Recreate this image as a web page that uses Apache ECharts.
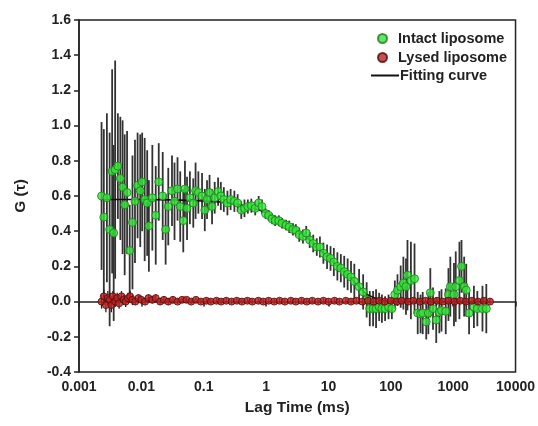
<!DOCTYPE html>
<html>
<head>
<meta charset="utf-8">
<title>FCS autocorrelation</title>
<script src="https://cdn.jsdelivr.net/npm/echarts@6/dist/echarts.min.js"></script>
<style>
html, body { margin: 0; padding: 0; background: #fff; }
#chart { width: 538px; height: 426px; }
</style>
</head>
<body>
<div id="chart"></div>
<script type="text/javascript">
// intact liposome: [lag time (ms), G(tau), error half-width]
var intact = [
    [0.0023, 0.60, 0.42], [0.0025, 0.48, 0.50], [0.0028, 0.59, 0.48], [0.0031, 0.41, 0.55],
    [0.0034, 0.74, 0.58], [0.0036, 0.39, 0.50], [0.0038, 0.75, 0.62], [0.0042, 0.77, 0.30],
    [0.0046, 0.70, 0.35], [0.0050, 0.65, 0.38], [0.0054, 0.55, 0.40], [0.0059, 0.62, 0.35],
    [0.0065, 0.29, 0.26], [0.0072, 0.45, 0.38], [0.0079, 0.57, 0.35], [0.0087, 0.66, 0.30],
    [0.0096, 0.63, 0.32], [0.0103, 0.68, 0.28], [0.0113, 0.58, 0.35], [0.0124, 0.56, 0.30],
    [0.0132, 0.43, 0.26], [0.015, 0.59, 0.30], [0.017, 0.49, 0.28], [0.019, 0.68, 0.22],
    [0.022, 0.60, 0.25], [0.0245, 0.41, 0.20], [0.027, 0.54, 0.22], [0.031, 0.63, 0.20],
    [0.034, 0.57, 0.22], [0.038, 0.64, 0.18], [0.042, 0.54, 0.20], [0.047, 0.46, 0.18],
    [0.050, 0.64, 0.16], [0.054, 0.53, 0.18], [0.060, 0.59, 0.15], [0.068, 0.56, 0.14],
    [0.074, 0.63, 0.16], [0.082, 0.62, 0.12], [0.094, 0.60, 0.13], [0.104, 0.52, 0.12],
    [0.113, 0.58, 0.11], [0.124, 0.62, 0.10], [0.136, 0.54, 0.10], [0.15, 0.59, 0.09],
    [0.17, 0.625, 0.08], [0.188, 0.60, 0.08], [0.21, 0.58, 0.07], [0.24, 0.56, 0.07],
    [0.27, 0.58, 0.06], [0.31, 0.57, 0.06], [0.35, 0.56, 0.05], [0.40, 0.52, 0.05],
    [0.45, 0.53, 0.05], [0.51, 0.54, 0.04], [0.58, 0.545, 0.04], [0.67, 0.53, 0.04],
    [0.76, 0.56, 0.04], [0.86, 0.54, 0.04], [0.98, 0.50, 0.03], [1.1, 0.49, 0.03],
    [1.25, 0.47, 0.03], [1.4, 0.46, 0.03], [1.6, 0.46, 0.03], [1.8, 0.445, 0.03],
    [2.1, 0.435, 0.03], [2.35, 0.425, 0.035], [2.7, 0.41, 0.035], [3.0, 0.405, 0.035],
    [3.4, 0.38, 0.04], [3.9, 0.37, 0.04], [4.4, 0.39, 0.04], [5.0, 0.35, 0.045],
    [5.7, 0.33, 0.05], [6.5, 0.31, 0.05], [7.3, 0.31, 0.06], [8.3, 0.275, 0.06],
    [9.5, 0.255, 0.07], [10.8, 0.245, 0.07], [12.2, 0.225, 0.08], [13.9, 0.20, 0.08],
    [15.8, 0.19, 0.08], [17.9, 0.17, 0.09], [20.3, 0.155, 0.09], [23, 0.14, 0.09],
    [26, 0.115, 0.10], [31, 0.085, 0.10], [36, 0.055, 0.10], [41, 0.01, 0.10],
    [46, -0.04, 0.10], [52, -0.04, 0.10], [58, -0.04, 0.11], [65, -0.03, 0.08],
    [72, -0.04, 0.08], [81, -0.04, 0.07], [92, -0.03, 0.07], [104, -0.04, 0.06],
    [116, 0.04, 0.08], [128, 0.065, 0.09], [144, 0.085, 0.12], [159, 0.105, 0.15],
    [175, 0.085, 0.16], [185, 0.15, 0.20], [210, 0.12, 0.22], [240, 0.13, 0.20],
    [270, -0.065, 0.12], [300, -0.07, 0.11], [325, -0.065, 0.12], [370, -0.115, 0.10],
    [400, -0.065, 0.12], [430, 0.05, 0.14], [475, -0.04, 0.12], [535, -0.105, 0.13],
    [600, -0.06, 0.12], [650, -0.05, 0.12], [760, -0.055, 0.13], [840, 0.04, 0.15],
    [900, 0.085, 0.17], [1030, 0.04, 0.18], [1100, 0.085, 0.20], [1260, 0.12, 0.22],
    [1360, 0.20, 0.15], [1500, 0.085, 0.17], [1620, 0.065, 0.15], [1800, -0.065, 0.12],
    [2150, -0.03, 0.12], [2440, -0.04, 0.10], [2950, -0.04, 0.13], [3400, -0.04, 0.14]
];

// lysed liposome: [lag time (ms), G(tau), error half-width]
var lysed = [
    [0.0023, 0.00, 0.04], [0.0025, 0.03, 0.04], [0.0027, -0.02, 0.04], [0.0029, 0.02, 0.04],
    [0.0031, 0.01, 0.04], [0.0033, -0.02, 0.04], [0.0035, 0.03, 0.03], [0.0038, 0.00, 0.03],
    [0.0041, 0.02, 0.03], [0.0044, -0.01, 0.03], [0.0048, 0.03, 0.03], [0.0052, 0.01, 0.03],
    [0.0056, 0.00, 0.03], [0.0061, 0.02, 0.03], [0.0066, 0.03, 0.03], [0.0072, 0.01, 0.03],
    [0.008, 0.00, 0.02], [0.009, 0.02, 0.02], [0.010, 0.01, 0.02], [0.0115, 0.00, 0.02],
    [0.013, 0.02, 0.02], [0.015, 0.01, 0.02], [0.017, 0.02, 0.02], [0.020, 0.00, 0.02],
    [0.023, 0.01, 0.02], [0.027, 0.00, 0.02], [0.032, 0.01, 0.02], [0.038, 0.00, 0.015],
    [0.045, 0.01, 0.015], [0.053, 0.01, 0.015], [0.063, 0.00, 0.015], [0.075, 0.01, 0.015],
    [0.09, 0.00, 0.015], [0.11, 0.005, 0.015], [0.13, 0.00, 0.015], [0.16, 0.005, 0.015],
    [0.19, 0.00, 0.015], [0.23, 0.005, 0.015], [0.28, 0.00, 0.015], [0.34, 0.005, 0.015],
    [0.41, 0.00, 0.015], [0.5, 0.005, 0.015], [0.6, 0.00, 0.015], [0.75, 0.005, 0.015],
    [0.9, 0.00, 0.015], [1.1, 0.005, 0.015], [1.35, 0.00, 0.015], [1.65, 0.005, 0.015],
    [2, 0.00, 0.015], [2.5, 0.005, 0.015], [3, 0.00, 0.015], [3.7, 0.005, 0.015],
    [4.5, 0.00, 0.015], [5.5, 0.005, 0.015], [6.8, 0.00, 0.015], [8.3, 0.005, 0.015],
    [10, 0.00, 0.015], [12.5, 0.005, 0.015], [15, 0.00, 0.015], [19, 0.005, 0.015],
    [23, 0.00, 0.015], [28, 0.005, 0.015], [35, 0.00, 0.015], [43, 0.005, 0.015],
    [53, 0.00, 0.015], [65, 0.005, 0.015], [80, 0.00, 0.015], [100, 0.005, 0.015],
    [125, 0.00, 0.015], [150, 0.005, 0.015], [190, 0.00, 0.015], [230, 0.005, 0.015],
    [290, 0.00, 0.015], [360, 0.005, 0.015], [440, 0.00, 0.015], [550, 0.005, 0.015],
    [680, 0.00, 0.015], [840, 0.005, 0.015], [1050, 0.00, 0.015], [1300, 0.005, 0.015],
    [1600, 0.00, 0.015], [2000, 0.005, 0.015], [2500, 0.00, 0.015], [3100, 0.005, 0.015],
    [3900, 0.00, 0.015]
];

// fitting curve
var fitLag = [0.0023, 0.01, 0.03, 0.1, 0.2, 0.3, 0.5, 0.7, 1, 1.5, 2, 3, 5, 7, 10, 15, 20, 30, 40, 60, 80, 100, 4000];
var fitG   = [0.58, 0.58, 0.578, 0.572, 0.565, 0.558, 0.54, 0.525, 0.505, 0.475, 0.45, 0.41, 0.35, 0.30, 0.25, 0.19, 0.15, 0.09, 0.045, 0.015, 0.005, 0, 0];

var yTicks = { min: -0.4, max: 1.6, step: 0.2 };
var xRange = { min: 0.001, max: 10000 };

var fontFam = '"Liberation Sans", Arial, sans-serif';

function errorBars(color, width) {
    return function (params, api) {
        var x = api.value(0), y = api.value(1), e = api.value(2);
        var p1 = api.coord([x, y + e]);
        var p2 = api.coord([x, y - e]);
        return {
            type: 'line',
            shape: { x1: p1[0], y1: p1[1], x2: p2[0], y2: p2[1] },
            style: { stroke: color, lineWidth: width }
        };
    };
}

var fitData = fitLag.map(function (t, i) { return [t, fitG[i]]; });

var myChart = echarts.init(document.getElementById('chart'));
var option = {
    backgroundColor: '#fff',
    animation: false,
    textStyle: { fontFamily: fontFam },
    grid: {
        left: 79, right: 21, top: 20, bottom: 54,
        show: true, borderColor: '#222', borderWidth: 1.5, backgroundColor: 'transparent'
    },
    legend: [
        {
            left: 372, top: 26, orient: 'vertical',
            itemWidth: 9, itemHeight: 9, itemGap: 4,
            textStyle: { fontFamily: fontFam, fontWeight: 'bold', fontSize: 14.5, color: '#222', padding: [0, 0, 0, 6] },
            data: [
                { name: 'Intact liposome', icon: 'circle' },
                { name: 'Lysed liposome', icon: 'circle' }
            ]
        },
        {
            left: 366, top: 63, orient: 'vertical',
            itemWidth: 28, itemHeight: 2,
            textStyle: { fontFamily: fontFam, fontWeight: 'bold', fontSize: 14.5, color: '#222', padding: [0, 0, 0, -4] },
            data: [{ name: 'Fitting curve', icon: 'rect' }]
        }
    ],
    xAxis: {
        type: 'log',
        logBase: 10,
        min: xRange.min,
        max: xRange.max,
        name: 'Lag Time (ms)',
        nameLocation: 'middle',
        nameGap: 28,
        nameTextStyle: { fontFamily: fontFam, fontWeight: 'bold', fontSize: 15.5, color: '#222' },
        axisLine: { lineStyle: { color: '#222', width: 1.5 } },
        axisTick: { inside: false, length: 5, lineStyle: { color: '#222', width: 1.5 } },
        minorTick: { show: false },
        splitLine: { show: false },
        axisLabel: {
            fontFamily: fontFam, fontWeight: 'bold', fontSize: 14, color: '#222', margin: 8,
            formatter: function (v) {
                var p = Math.round(Math.log10(v));
                return p < 0 ? v.toFixed(-p) : String(Math.round(v));
            }
        }
    },
    yAxis: {
        type: 'value',
        min: yTicks.min,
        max: yTicks.max,
        interval: yTicks.step,
        name: 'G (\u03c4)',
        nameLocation: 'middle',
        nameGap: 50,
        nameTextStyle: { fontFamily: fontFam, fontWeight: 'bold', fontSize: 15.5, color: '#222' },
        axisLine: { show: true, lineStyle: { color: '#222', width: 1.5 } },
        axisTick: { show: true, inside: false, length: 5, lineStyle: { color: '#222', width: 1.5 } },
        splitLine: { show: false },
        axisLabel: {
            fontFamily: fontFam, fontWeight: 'bold', fontSize: 14, color: '#222', margin: 8,
            formatter: function (v) { return v.toFixed(1); }
        }
    },
    series: [
        {
            name: 'intact-err',
            type: 'custom',
            renderItem: errorBars('#333', 1.8),
            encode: { x: 0, y: 1 },
            data: intact,
            z: 1
        },
        {
            name: 'Fitting curve',
            type: 'line',
            data: fitData,
            smooth: 0.3,
            showSymbol: false,
            symbol: 'none',
            lineStyle: { color: '#111', width: 1.6 },
            itemStyle: { color: '#111' },
            z: 2
        },
        {
            name: 'Intact liposome',
            type: 'scatter',
            data: intact.map(function (r) { return [r[0], r[1]]; }),
            symbol: 'circle',
            symbolSize: 8,
            itemStyle: { color: '#37e23a', borderColor: '#1c7d1c', borderWidth: 1 },
            z: 3
        },
        {
            name: 'lysed-err',
            type: 'custom',
            renderItem: errorBars('#222', 1.3),
            encode: { x: 0, y: 1 },
            data: lysed,
            z: 4
        },
        {
            name: 'Lysed liposome',
            type: 'scatter',
            data: lysed.map(function (r) { return [r[0], r[1]]; }),
            symbol: 'circle',
            symbolSize: 7,
            itemStyle: { color: '#c42121', borderColor: '#4a0b0b', borderWidth: 1 },
            z: 5
        }
    ]
};
myChart.setOption(option);
</script>
</body>
</html>
